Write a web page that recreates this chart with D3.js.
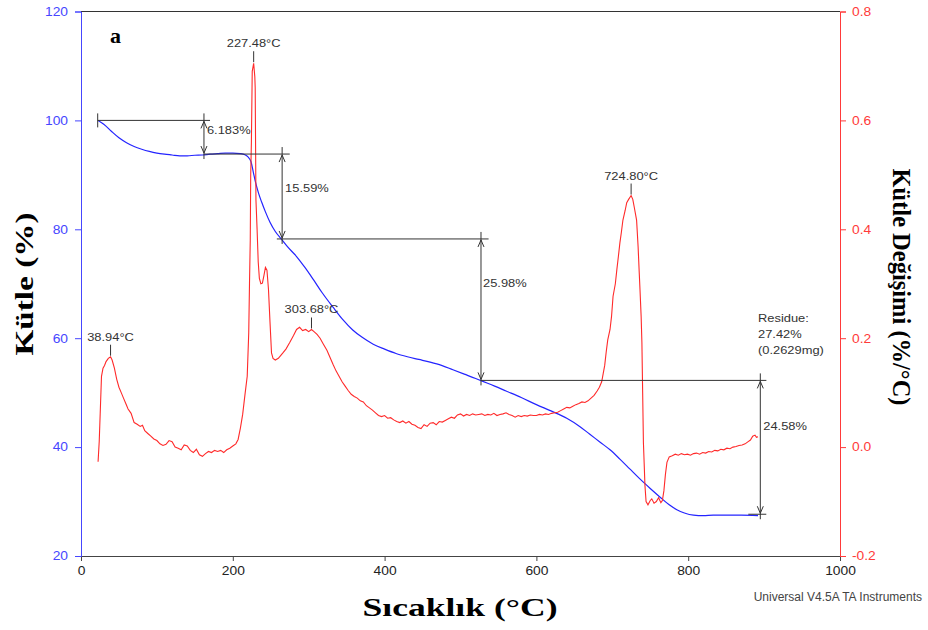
<!DOCTYPE html>
<html>
<head>
<meta charset="utf-8">
<script src="https://cdn.jsdelivr.net/npm/d3@7"></script>
<style>
  body { margin: 0; background: #fff; }
  text { font-family: "Liberation Sans", Arial, sans-serif; }
  .title { font-family: "Liberation Serif", "Times New Roman", serif; font-weight: bold; fill: #000; }
</style>
</head>
<body>
<svg id="chart" width="928" height="630"></svg>
<script>
// TGA curve (mass %)
const tgaTemp = [22.5, 30, 40, 50, 60, 70, 80, 90, 100, 110, 120, 130, 140, 150, 160, 170, 180, 190, 200, 210, 216, 220, 224, 227, 230, 234, 238, 243, 249, 256, 264, 272, 284, 295, 306, 318, 332, 345, 358, 370, 385, 400, 415, 430, 445, 460, 475, 490, 505, 520, 527, 545, 560, 580, 600, 620, 640, 657, 670, 684, 697, 710, 723, 736, 750, 763, 775, 785, 795, 807, 820, 833, 850, 870, 892];
const tgaMass = [100, 99.3, 98.0, 96.8, 95.9, 95.2, 94.7, 94.3, 94.0, 93.8, 93.65, 93.5, 93.5, 93.6, 93.65, 93.8, 93.9, 94.0, 94.0, 93.9, 93.7, 93.3, 92.4, 90.5, 88.6, 86.6, 85.0, 83.2, 81.3, 79.6, 78.2, 76.8, 75.0, 73.0, 70.8, 68.3, 65.7, 63.4, 61.5, 60.2, 58.9, 58.0, 57.2, 56.6, 56.1, 55.6, 55.0, 54.2, 53.4, 52.6, 52.2, 51.2, 50.3, 49.1, 47.8, 46.6, 45.3, 43.8, 42.4, 40.9, 39.5, 37.8, 36.0, 34.2, 32.4, 30.8, 29.4, 28.5, 27.9, 27.5, 27.4, 27.5, 27.5, 27.5, 27.42];

// DTG curve (%/°C)
const dtgTemp = [22.5, 24, 25.5, 27, 29, 31, 33, 36, 38.94, 41, 44, 47, 50, 53, 56, 59, 62, 66, 70, 74, 78, 81, 84, 88, 92, 96, 100, 104, 108, 112, 116, 120, 124, 128, 132, 136, 140, 144, 148, 152, 156, 160, 164, 168, 172, 176, 180, 184, 188, 192, 196, 200, 204, 207, 210, 213, 216, 219, 221, 222, 223, 223.6, 224.5, 225.6, 227.48, 229, 229.5, 230.5, 232, 233.5, 235, 237, 239, 241, 243, 245, 247, 249, 251, 253, 256, 260, 263, 266, 270, 275, 280, 284, 288, 292, 296, 300, 303.68, 307, 311, 315, 319, 324, 328, 332, 336, 340, 344, 348, 352, 356, 360, 364, 368, 372, 376, 380, 384, 388, 392, 396, 400, 404, 408, 412, 416, 420, 424, 428, 432, 436, 440, 444, 448, 452, 456, 460, 464, 468, 472, 476, 480, 484, 488, 492, 496, 500, 504, 508, 512, 516, 520, 524, 528, 532, 536, 540, 544, 548, 552, 556, 560, 564, 568, 572, 576, 580, 584, 588, 592, 596, 600, 604, 608, 612, 616, 620, 624, 628, 632, 636, 640, 644, 648, 652, 656, 660, 664, 668, 672, 676, 680, 683, 686, 688, 690, 692, 694, 697, 699, 701, 704, 706, 708, 710, 712, 714, 717, 719, 721.5, 724.8, 727, 729, 732, 734, 735.5, 736.5, 738, 739, 740, 741, 742, 743, 744.5, 747, 750, 752, 755, 758, 761, 764, 766, 768, 770, 772, 775, 779, 783, 787, 791, 795, 799, 803, 807, 811, 815, 819, 823, 827, 831, 835, 839, 843, 847, 851, 855, 859, 863, 867, 871, 875, 879, 882, 885, 888, 890, 892];
const dtgValue = [-0.027, 0.01, 0.07, 0.13, 0.145, 0.15, 0.157, 0.163, 0.166, 0.16, 0.145, 0.125, 0.11, 0.1, 0.09, 0.08, 0.07, 0.062, 0.045, 0.042, 0.038, 0.04, 0.03, 0.025, 0.02, 0.015, 0.012, 0.006, 0.003, 0.005, 0.012, 0.01, 0.0, -0.002, -0.005, 0.004, 0.002, -0.006, -0.01, -0.004, -0.014, -0.017, -0.012, -0.008, -0.01, -0.006, -0.008, -0.006, -0.01, -0.005, -0.002, 0.002, 0.006, 0.014, 0.035, 0.06, 0.096, 0.13, 0.21, 0.3, 0.38, 0.5, 0.56, 0.69, 0.705, 0.68, 0.66, 0.454, 0.40, 0.34, 0.31, 0.30, 0.301, 0.315, 0.33, 0.325, 0.29, 0.23, 0.173, 0.163, 0.16, 0.163, 0.168, 0.173, 0.18, 0.192, 0.205, 0.216, 0.22, 0.214, 0.216, 0.212, 0.216, 0.212, 0.207, 0.2, 0.19, 0.178, 0.165, 0.152, 0.14, 0.13, 0.12, 0.112, 0.104, 0.097, 0.093, 0.09, 0.085, 0.083, 0.076, 0.072, 0.068, 0.063, 0.058, 0.056, 0.058, 0.053, 0.054, 0.05, 0.047, 0.045, 0.048, 0.044, 0.047, 0.042, 0.04, 0.036, 0.034, 0.041, 0.038, 0.044, 0.045, 0.041, 0.047, 0.046, 0.049, 0.052, 0.055, 0.053, 0.059, 0.061, 0.057, 0.06, 0.058, 0.061, 0.059, 0.06, 0.061, 0.058, 0.06, 0.059, 0.062, 0.058, 0.06, 0.061, 0.063, 0.06, 0.058, 0.055, 0.058, 0.056, 0.058, 0.057, 0.059, 0.058, 0.058, 0.06, 0.059, 0.061, 0.06, 0.062, 0.063, 0.064, 0.067, 0.07, 0.073, 0.072, 0.075, 0.078, 0.08, 0.083, 0.082, 0.085, 0.09, 0.095, 0.103, 0.11, 0.12, 0.135, 0.15, 0.175, 0.197, 0.216, 0.24, 0.277, 0.3, 0.326, 0.35, 0.375, 0.395, 0.417, 0.435, 0.449, 0.455, 0.462, 0.455, 0.44, 0.417, 0.368, 0.32, 0.289, 0.24, 0.192, 0.1, 0.008, -0.03, -0.07, -0.1, -0.106, -0.098, -0.095, -0.103, -0.1, -0.093, -0.102, -0.098, -0.08, -0.05, -0.028, -0.018, -0.016, -0.013, -0.015, -0.012, -0.014, -0.013, -0.015, -0.012, -0.011, -0.013, -0.01, -0.011, -0.008, -0.009, -0.006, -0.007, -0.004, -0.005, -0.002, -0.003, 0.0, 0.001, 0.003, 0.004, 0.006, 0.01, 0.013, 0.02, 0.022, 0.018, 0.019];

// axes ticks
const xMajorTicks = [0, 200, 400, 600, 800, 1000];
const leftTicks = [20, 40, 60, 80, 100, 120];
const leftTickLabels = ["20", "40", "60", "80", "100", "120"];
const rightTicks = [-0.2, 0, 0.2, 0.4, 0.6, 0.8];
const rightTickLabels = ["-0.2", "0.0", "0.2", "0.4", "0.6", "0.8"];

// weight-loss steps (TA step analysis)
const stepLevels = [100, 93.82, 78.23, 52.25, 27.67];
const stepTemps = [162, 265, 527, 895];
const stepLineStart = [22, 162, 258, 527];
const stepLineEnd = [170, 275, 537, 903];
const stepLabels = ["6.183%", "15.59%", "25.98%", "24.58%"];
const residueLines = ["Residue:", "27.42%", "(0.2629mg)"];

// DTG peaks
const peakTemps = [38.94, 227.48, 303.68, 724.80];
const peakValues = [0.166, 0.705, 0.216, 0.462];

const svg = d3.select('#chart');
const x = d3.scaleLinear().domain([0, 1000]).range([81, 840]);
const yL = d3.scaleLinear().domain([20, 120]).range([556, 11.5]);
const yR = d3.scaleLinear().domain([-0.2, 0.8]).range([556, 11.5]);

const blueAx = '#4646ff', redAx = '#ff3a3a';

// stretch text sideways a bit, the original picture is a little wide
function widen(sel, k) {
  sel.each(function() {
    const w = this.getComputedTextLength();
    d3.select(this).attr('textLength', w * k).attr('lengthAdjust', 'spacingAndGlyphs');
  });
}

// top frame line
svg.append('line')
  .attr('x1', x(0)).attr('x2', x(1000))
  .attr('y1', yL(120)).attr('y2', yL(120))
  .attr('stroke', '#333').attr('stroke-width', 1);

// x axis
const gx = svg.append('g').attr('transform', `translate(0,${yL(20)})`);
gx.call(d3.axisBottom(x).tickValues(d3.range(0, 1001, 50)).tickSize(5).tickFormat(''));
gx.call(d3.axisBottom(x).tickValues(xMajorTicks).tickSize(5).tickPadding(5).tickFormat(d => d));
gx.selectAll('path, line').attr('stroke', '#444');
gx.selectAll('text').attr('font-size', 12).attr('fill', '#222')
  .attr('font-family', '"Liberation Sans", Arial, sans-serif');

// left axis
const gl = svg.append('g').attr('transform', `translate(${x(0)},0)`);
gl.call(d3.axisLeft(yL).tickValues(d3.range(20, 121, 5)).tickSize(6).tickFormat(''));
gl.call(d3.axisLeft(yL).tickValues(leftTicks).tickSize(6).tickPadding(7)
  .tickFormat((d, i) => leftTickLabels[i]));
gl.selectAll('path, line').attr('stroke', blueAx);
gl.selectAll('text').attr('font-size', 12).attr('fill', blueAx)
  .attr('font-family', '"Liberation Sans", Arial, sans-serif');

// right axis
const gr = svg.append('g').attr('transform', `translate(${x(1000)},0)`);
gr.call(d3.axisRight(yR).tickValues(d3.range(-4, 17).map(d => d * 0.05)).tickSize(6).tickFormat(''));
gr.call(d3.axisRight(yR).tickValues(rightTicks).tickSize(6).tickPadding(6)
  .tickFormat((d, i) => rightTickLabels[i]));
gr.selectAll('path, line').attr('stroke', redAx);
gr.selectAll('text').attr('font-size', 12).attr('fill', redAx)
  .attr('font-family', '"Liberation Sans", Arial, sans-serif');

svg.selectAll('.tick text').call(widen, 1.15);

// curves
const tga = tgaTemp.map((t, i) => [t, tgaMass[i]]);
const dtg = dtgTemp.map((t, i) => [t, dtgValue[i]]);

svg.append('path').datum(tga)
  .attr('d', d3.line().x(d => x(d[0])).y(d => yL(d[1])).curve(d3.curveMonotoneX))
  .attr('fill', 'none').attr('stroke', '#2424ff').attr('stroke-width', 1.2);

svg.append('path').datum(dtg)
  .attr('d', d3.line().x(d => x(d[0])).y(d => yR(d[1])))
  .attr('fill', 'none').attr('stroke', '#ff2a2a').attr('stroke-width', 1.1);

// step annotations
const ann = svg.append('g').attr('stroke', '#333').attr('stroke-width', 1).attr('fill', 'none');
stepTemps.forEach((t, i) => {
  const yTop = yL(stepLevels[i]), yBot = yL(stepLevels[i + 1]), xv = x(t);
  // horizontal level line
  ann.append('line')
    .attr('x1', x(stepLineStart[i])).attr('x2', x(stepLineEnd[i]))
    .attr('y1', yTop).attr('y2', yTop);
  // vertical with arrows
  ann.append('line').attr('x1', xv).attr('x2', xv).attr('y1', yTop - 7).attr('y2', yBot + 5);
  ann.append('path').attr('d', `M${xv - 3},${yTop + 8}L${xv},${yTop + 1}L${xv + 3},${yTop + 8}`);
  ann.append('path').attr('d', `M${xv - 3},${yBot - 8}L${xv},${yBot - 1}L${xv + 3},${yBot - 8}`);
});
// start tick and final level tick
ann.append('line')
  .attr('x1', x(stepLineStart[0])).attr('x2', x(stepLineStart[0]))
  .attr('y1', yL(stepLevels[0]) - 7).attr('y2', yL(stepLevels[0]) + 7);
const lastX = x(stepTemps[3]), lastY = yL(stepLevels[4]);
ann.append('line').attr('x1', lastX - 12).attr('x2', lastX + 6).attr('y1', lastY).attr('y2', lastY);

const labelPos = [[3, 14], [3, 38], [2, 48], [3, 50]];
const txt = svg.append('g').attr('fill', '#333').attr('font-size', 11.5);
stepTemps.forEach((t, i) => {
  const yMid = (yL(stepLevels[i]) + yL(stepLevels[i + 1])) / 2;
  txt.append('text')
    .attr('x', x(t) + labelPos[i][0])
    .attr('y', yL(stepLevels[i]) + labelPos[i][1])
    .text(stepLabels[i]);
});
residueLines.forEach((s, i) => {
  txt.append('text').attr('x', 758).attr('y', 322 + i * 16).text(s);
});

// peak markers
peakTemps.forEach((t, i) => {
  const px = x(t), py = yR(peakValues[i]);
  svg.append('line').attr('x1', px).attr('x2', px).attr('y1', py - 1).attr('y2', py - 12)
    .attr('stroke', '#333');
  txt.append('text').attr('x', px).attr('y', py - 16).attr('text-anchor', 'middle')
    .text(`${t.toFixed(2)}°C`);
});
txt.selectAll('text').call(widen, 1.12);

// titles
svg.append('text').attr('class', 'title')
  .attr('transform', 'translate(33,284) rotate(-90)')
  .attr('text-anchor', 'middle').attr('font-size', 25)
  .attr('textLength', 143).attr('lengthAdjust', 'spacingAndGlyphs')
  .text('Kütle (%)');

svg.append('text').attr('class', 'title')
  .attr('transform', 'translate(893,287) rotate(90)')
  .attr('text-anchor', 'middle').attr('font-size', 25)
  .attr('textLength', 237).attr('lengthAdjust', 'spacingAndGlyphs')
  .text('Kütle Değişimi (%/°C)');

svg.append('text').attr('class', 'title')
  .attr('x', 460).attr('y', 616)
  .attr('text-anchor', 'middle').attr('font-size', 25)
  .attr('textLength', 195).attr('lengthAdjust', 'spacingAndGlyphs')
  .text('Sıcaklık  (°C)');

svg.append('text').attr('class', 'title')
  .attr('x', 110).attr('y', 43).attr('font-size', 22)
  .text('a');

svg.append('text')
  .attr('x', 922).attr('y', 601).attr('text-anchor', 'end')
  .attr('font-size', 12).attr('fill', '#444')
  .text('Universal V4.5A TA Instruments');
</script>
</body>
</html>
